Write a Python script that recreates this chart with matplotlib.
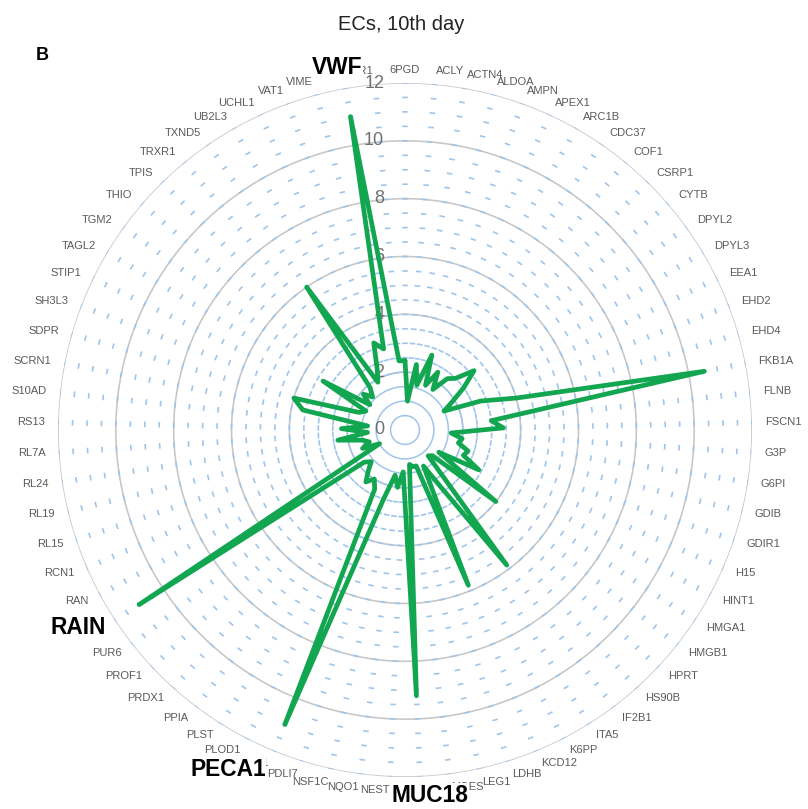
import numpy as np
import matplotlib
matplotlib.use("Agg")
import matplotlib.pyplot as plt
from matplotlib.collections import LineCollection
from matplotlib import font_manager

# Proteins in clockwise order starting from the top
proteins = ["6PGD", "ACLY", "ACTN4", "ALDOA", "AMPN", "APEX1", "ARC1B", "CDC37",
            "COF1", "CSRP1", "CYTB", "DPYL2", "DPYL3", "EEA1", "EHD2", "EHD4",
            "FKB1A", "FLNB", "FSCN1", "G3P", "G6PI", "GDIB", "GDIR1", "H15",
            "HINT1", "HMGA1", "HMGB1", "HPRT", "HS90B", "IF2B1", "ITA5", "K6PP",
            "KCD12", "LDHB", "LEG1", "MOES", "MUC18", "NEST", "NQO1", "NSF1C",
            "PDLI7", "PECA1", "PLOD1", "PLST", "PPIA", "PRDX1", "PROF1", "PUR6",
            "RAIN", "RAN", "RCN1", "RL15", "RL19", "RL24", "RL7A", "RS13",
            "S10AD", "SCRN1", "SDPR", "SH3L3", "STIP1", "TAGL2", "TGM2", "THIO",
            "TPIS", "TRXR1", "TXND5", "UB2L3", "UCHL1", "VAT1", "VIME", "VWF",
            "WDR1"]

# Fold change per protein
values = [2.4, 1.0, 2.3, 1.6, 2.75, 1.7, 2.3, 1.7,
          2.3, 2.5, 3.15, 2.5, 1.9, 1.5, 2.8, 4.0,
          10.55, 3.0, 3.4, 1.6, 2.0, 1.9, 2.3, 2.2,
          2.9, 1.4, 4.0, 1.3, 1.2, 5.85, 2.3, 1.4,
          5.8, 1.3, 1.3, 1.2, 9.2, 1.45, 2.0, 1.6,
          2.5, 11.0, 2.3, 2.0, 2.25, 1.9, 1.6, 1.8,
          11.0, 1.0, 1.6, 1.3, 1.5, 2.35, 1.3, 2.2,
          1.3, 3.6, 4.0, 1.7, 1.5, 3.3, 1.5, 1.9,
          1.6, 1.9, 6.0, 1.9, 2.3, 3.2, 2.9, 11.0,
          2.4]

radial_ticks = [0, 2, 4, 6, 8, 10, 12]
highlighted = ["VWF", "MUC18", "PECA1", "RAIN"]
chart_title = "ECs, 10th day"
panel_letter = "B"

# fonts
installed = {f.name for f in font_manager.fontManager.ttflist}
narrow = "Liberation Sans Narrow" if "Liberation Sans Narrow" in installed else "Liberation Sans"
narrow_scale = 1.0 if narrow == "Liberation Sans Narrow" else 0.84

W, H, DPI = 808, 809, 100
fig = plt.figure(figsize=(W / DPI, H / DPI), dpi=DPI)
cx, cy, R = 405, 430, 347  # pixel centre and outer radius of the polar area
ax = fig.add_axes([(cx - R) / W, (H - cy - R) / H, 2 * R / W, 2 * R / H],
                  projection="polar")
ax.set_theta_zero_location("N")
ax.set_theta_direction(-1)
rmax = radial_ticks[-1]
ax.set_ylim(0, rmax)
ax.grid(False)
ax.spines["polar"].set_visible(False)
ax.set_xticks([])
ax.set_yticks([])

n = len(proteins)
theta = np.arange(n) * 2 * np.pi / n
px_per_unit = R / rmax

# solid grey rings
full = np.linspace(0, 2 * np.pi, 721)
for r in radial_ticks[1:]:
    ax.plot(full, np.full_like(full, r), color="#c6c6c6", lw=1.15, zorder=1)

# light-blue dashed rings, one dash per category
segs = []
for r in np.arange(0.5, rmax + 0.01, 0.5):
    half = 2.8 / (r * px_per_unit)
    if half >= np.pi / n:
        ax.plot(full, np.full_like(full, r), color="#9fc5ea", lw=1.1, zorder=1.5)
        continue
    for t in theta:
        tt = np.linspace(t - half, t + half, 3)
        segs.append(np.column_stack([tt, np.full(3, r)]))
ax.add_collection(LineCollection(segs, colors="#9fc5ea", linewidths=1.2,
                                 transform=ax.transData, zorder=1.5))

# radial tick labels
for v in radial_ticks:
    ax.annotate(str(v), xy=(0, v), xytext=(-15, 0), textcoords="offset points",
                ha="right", va="center", fontsize=13, color="#707070",
                family="Liberation Sans", zorder=2, annotation_clip=False)

# data polygon
th_c = np.append(theta, theta[0] + 2 * np.pi)
v_c = np.append(values, values[0])
ax.plot(th_c, v_c, color="#12a650", lw=3.4, solid_joinstyle="round",
        solid_capstyle="round", zorder=5, clip_on=False)

# category labels
for t, name in zip(theta, proteins):
    s = np.sin(t)
    ha = "left" if s > 0.01 else ("right" if s < -0.01 else "center")
    ax.text(t, rmax + 13 / px_per_unit, name, ha=ha, va="center",
            fontsize=9.5 * narrow_scale, color="#5a5a5a", family=narrow,
            zorder=3, clip_on=False)

# emphasised protein names
big_pos = {"VWF": (337, 68), "MUC18": (430, 795), "PECA1": (228, 770),
           "RAIN": (78, 628)}
for name in highlighted:
    x, y = big_pos[name]
    fig.text(x / W, 1 - y / H, name, ha="center", va="center",
             fontsize=19.5 * narrow_scale, fontweight="bold", family=narrow,
             color="black", zorder=10,
             bbox=dict(fc="white", ec="none", pad=0.3))

fig.text(401 / W, 1 - 25 / H, chart_title, ha="center", va="center",
         fontsize=14.5, color="#222222", family="Liberation Sans")
fig.text(42 / W, 1 - 55 / H, panel_letter, ha="center", va="center",
         fontsize=13, fontweight="bold", color="black", family="Liberation Sans")

fig.savefig("out.png", dpi=DPI)
